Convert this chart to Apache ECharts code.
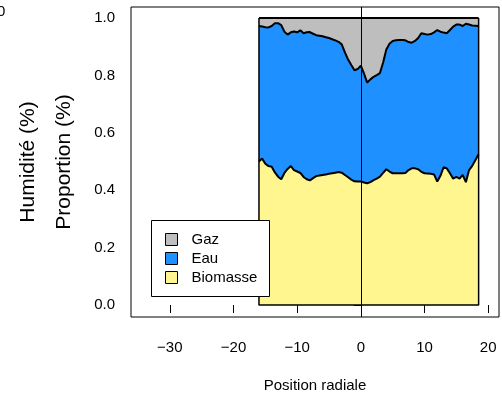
<!DOCTYPE html>
<html><head><meta charset="utf-8">
<script src="https://cdn.jsdelivr.net/npm/echarts@6/dist/echarts.min.js"></script>
<style>html,body{margin:0;padding:0;background:#fff}#c{width:502px;height:398px}</style>
</head><body><div id="c"></div>
<script>
// Radial positions
const positions = [-16,-15.5,-15,-14.5,-14,-13.5,-13,-12.5,-12,-11.5,-11,-10.5,-10,-9.5,-9,-8.5,-8,-7.5,-7,-6.5,-6,-5.5,-5,-4.5,-4,-3.5,-3,-2.5,-2,-1.5,-1,-0.5,0,0.5,1,1.5,2,2.5,3,3.5,4,4.5,5,5.5,6,6.5,7,7.5,8,8.5,9,9.5,10,10.5,11,11.5,12,12.5,13,13.5,14,14.5,15,15.5,16,16.5,17,17.5,18,18.5];
// Proportions
const biomasse = [.500,.510,.492,.484,.482,.462,.447,.438,.460,.474,.484,.470,.465,.460,.446,.438,.434,.442,.449,.451,.453,.455,.457,.459,.461,.463,.461,.453,.445,.437,.431,.430,.430,.427,.424,.428,.435,.440,.447,.460,.473,.465,.459,.459,.459,.459,.460,.470,.476,.476,.473,.464,.459,.458,.457,.455,.430,.450,.480,.476,.459,.440,.446,.440,.453,.428,.470,.485,.505,.525];
const eau = [.472,.460,.476,.483,.490,.520,.535,.537,.492,.468,.466,.483,.485,.497,.501,.512,.517,.503,.491,.487,.483,.478,.473,.467,.461,.454,.447,.427,.410,.399,.387,.392,.404,.379,.351,.358,.360,.361,.361,.385,.417,.445,.461,.463,.464,.464,.462,.446,.438,.444,.457,.483,.485,.484,.487,.495,.528,.502,.469,.471,.499,.530,.531,.537,.519,.552,.507,.489,.468,.447];
const gaz = [.028,.030,.032,.033,.028,.018,.018,.025,.048,.058,.050,.047,.050,.043,.053,.050,.049,.055,.060,.062,.064,.067,.070,.074,.078,.083,.092,.120,.145,.164,.182,.178,.166,.194,.225,.214,.205,.199,.192,.155,.110,.090,.080,.078,.077,.077,.078,.084,.086,.080,.070,.053,.056,.058,.056,.050,.042,.048,.051,.053,.042,.030,.023,.023,.028,.020,.023,.026,.027,.028];
const seriesNames = ['Biomasse','Eau','Gaz'];
const xTicks = [-30,-20,-10,0,10,20];
const yTicks = [0,0.2,0.4,0.6,0.8,1.0];

const FONT = 'Liberation Sans';
const colors = {Biomasse:'#FFF68F', Eau:'#1E90FF', Gaz:'#BEBEBE'};
const vals = {Biomasse:biomasse, Eau:eau, Gaz:gaz};

// stack manually (cumulative tops), since the base axis is numeric
const tops = {};
let acc = positions.map(()=>0);
seriesNames.forEach(n => { acc = acc.map((a,i)=>a+vals[n][i]); tops[n] = acc.slice(); });
const pairs = a => a.map((v,i)=>[positions[i], v]);

const series = [];
// draw from the top layer down so lower layers paint over upper fills
['Gaz','Eau','Biomasse'].forEach((n,k) => {
  series.push({
    name:n, type:'line', data:pairs(tops[n]),
    showSymbol:false, symbol:'none', lineStyle:{width:0},
    areaStyle:{color:colors[n], opacity:1, origin:'auto'}, color:colors[n], z:2+k*0.01, silent:true
  });
});
seriesNames.forEach(n => {
  series.push({
    name:'_l'+n, type:'line', data:pairs(tops[n]),
    showSymbol:false, symbol:'none', lineStyle:{width:2, color:'#000'}, z:4, silent:true
  });
});
const last = positions.length-1;
series.push({
  name:'_border', type:'line', showSymbol:false, symbol:'none', silent:true, z:4,
  data:[[positions[0], tops.Gaz[0]],[positions[0],0],[positions[last],0],[positions[last],tops.Gaz[last]]],
  lineStyle:{width:1.5, color:'#000'},
  markLine:{silent:true, symbol:'none', label:{show:false}, lineStyle:{color:'#000', width:1, type:'solid'}, data:[{xAxis:0}]}
});

const chart = echarts.init(document.getElementById('c'), null, {renderer:'canvas'});
chart.setOption({
  animation:false,
  backgroundColor:'#fff',
  textStyle:{fontFamily:FONT},
  grid:{left:131, top:7, width:368, height:310, show:true, borderColor:'#000', borderWidth:1, backgroundColor:'transparent'},
  xAxis:{type:'value', min:-36.1, max:21.7,
    axisLine:{show:false}, splitLine:{show:false},
    axisTick:{show:true, length:8, lineStyle:{color:'#000'}, customValues:xTicks},
    axisLabel:{customValues:xTicks, margin:23, fontSize:15, color:'#000', fontFamily:FONT,
      formatter:v=>String(v).replace('-','\u2212')}
  },
  yAxis:{type:'value', min:-0.0418, max:1.0382,
    axisLine:{show:false}, splitLine:{show:false},
    axisTick:{show:true, length:7, lineStyle:{color:'#000'}, customValues:yTicks},
    axisLabel:{customValues:yTicks, margin:16, fontSize:15, color:'#000', fontFamily:FONT,
      formatter:v=>v.toFixed(1)}
  },
  legend:{data:['Gaz','Eau','Biomasse'], orient:'vertical', left:165, top:232,
    itemWidth:12, itemHeight:12, itemGap:4, icon:'rect', padding:0, z:10,
    itemStyle:{borderColor:'#000', borderWidth:1},
    textStyle:{fontSize:15, color:'#000', fontFamily:FONT, lineHeight:12, padding:[0,0,0,9]},
    selectedMode:false},
  graphic:[
    {type:'rect', left:151, top:220, shape:{width:118, height:76}, style:{fill:'#fff', stroke:'#000', lineWidth:1}, z:5},
    {type:'text', x:28, y:162, rotation:Math.PI/2, style:{text:'Humidité (%)', font:'21px "Liberation Sans"', fill:'#000', textAlign:'center', textVerticalAlign:'middle'}},
    {type:'text', x:64, y:162, rotation:Math.PI/2, style:{text:'Proportion (%)', font:'21px "Liberation Sans"', fill:'#000', textAlign:'center', textVerticalAlign:'middle'}},
    {type:'text', x:315, y:386, style:{text:'Position radiale', font:'15px "Liberation Sans"', fill:'#000', textAlign:'center', textVerticalAlign:'middle'}},
    {type:'text', x:-3, y:12, style:{text:'0', font:'15px "Liberation Sans"', fill:'#000', textAlign:'left', textVerticalAlign:'middle'}}
  ],
  series:series
});
</script>
</body></html>
